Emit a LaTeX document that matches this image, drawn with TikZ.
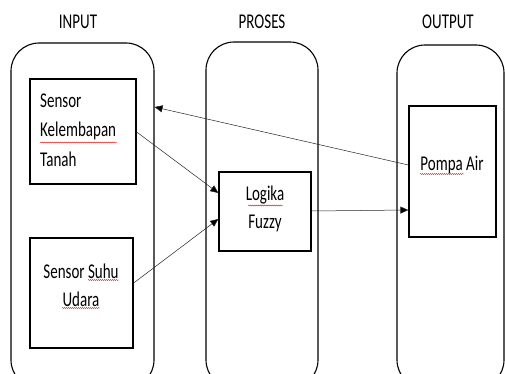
\documentclass[tikz,border=0pt]{standalone}
\usepackage{fontspec}
\setmainfont{Carlito}
\usetikzlibrary{arrows.meta,decorations.pathmorphing}
\newcommand{\tx}[1]{\scalebox{1}[1.4]{#1}}
\tikzset{
  container/.style={draw=black, line width=1.1pt, rounded corners=28pt, inner sep=0pt},
  box/.style={draw=black, line width=1.3pt, inner sep=0pt},
  lbl/.style={font=\fontsize{15}{20}\selectfont, inner sep=0pt},
  title/.style={font=\fontsize{15}{20}\selectfont, inner sep=0pt},
  conn/.style={draw=black!85, line width=0.5pt, -{Triangle[length=8pt,width=7pt,fill=black]}},
  spell/.style={draw=red!85!black, line width=0.3pt, decorate, decoration={snake, amplitude=0.6pt, segment length=2pt}}
}
\begin{document}
\begin{tikzpicture}[x=1pt,y=-1pt]
\useasboundingbox (0,0) rectangle (505,374);
\clip (0,0) rectangle (505,374);
\fill[white] (0,0) rectangle (505,374);

% titles
\node[title] (tin) at (78,22) {\tx{INPUT}};
\node[title] (tpr) at (262,22) {\tx{PROSES}};
\node[title] (tout) at (448,22) {\tx{OUTPUT}};

% containers
\node[container, minimum width=143pt, minimum height=345pt] (inp) at (82.5,215.5) {};
\node[container, minimum width=112pt, minimum height=346pt] (pro) at (262,215) {};
\node[container, minimum width=107pt, minimum height=343pt] (outc) at (450.5,216.5) {};

% boxes
\node[box, minimum width=106pt, minimum height=105pt] (kel) at (83,131.5) {};
\node[box, minimum width=103pt, minimum height=110pt] (suhu) at (81.5,293) {};
\node[box, minimum width=92pt, minimum height=79pt] (fuz) at (265,211.5) {};
\node[box, minimum width=87pt, minimum height=131pt] (pompa) at (452.5,171.5) {};

% labels
\node[lbl, anchor=west] (l1) at (40,101) {\tx{Sensor}};
\node[lbl, anchor=west] (l2) at (40,131) {\tx{Kelembapan}};
\node[lbl, anchor=west] (l3) at (40,159) {\tx{Tanah}};
\node[lbl] (l4) at (81,271) {\tx{Sensor Suhu}};
\node[lbl] (l5) at (81,299) {\tx{Udara}};
\node[lbl] (l6) at (265,195) {\tx{Logika}};
\node[lbl] (l7) at (265,223) {\tx{Fuzzy}};
\node[lbl] (l8) at (452,165) {\tx{Pompa Air}};

% spell-check underlines
\draw[spell] (40,142.5) -- (117,142.5);
\draw[spell] (88,280) -- (119,280);
\draw[spell] (62,308) -- (100,308);
\draw[spell] (248,205.5) -- (283,205.5);
\draw[spell] (420,174) -- (464,174);

% helper coordinates
\coordinate (h1) at (0,107);
\coordinate (p1) at (0,165);
\coordinate (k1) at (0,132);
\coordinate (f1) at (0,193);
\coordinate (s1) at (0,283);
\coordinate (f2) at (0,219);
\coordinate (f3) at (0,211);
\coordinate (p3) at (0,210);

% connectors
\draw[conn] (pompa.west |- p1) -- (inp.east |- h1);
\draw[conn] (kel.east |- k1) -- (fuz.west |- f1);
\draw[conn] (suhu.east |- s1) -- (fuz.west |- f2);
\draw[conn] (fuz.east |- f3) -- (pompa.west |- p3);
\end{tikzpicture}
\end{document}
